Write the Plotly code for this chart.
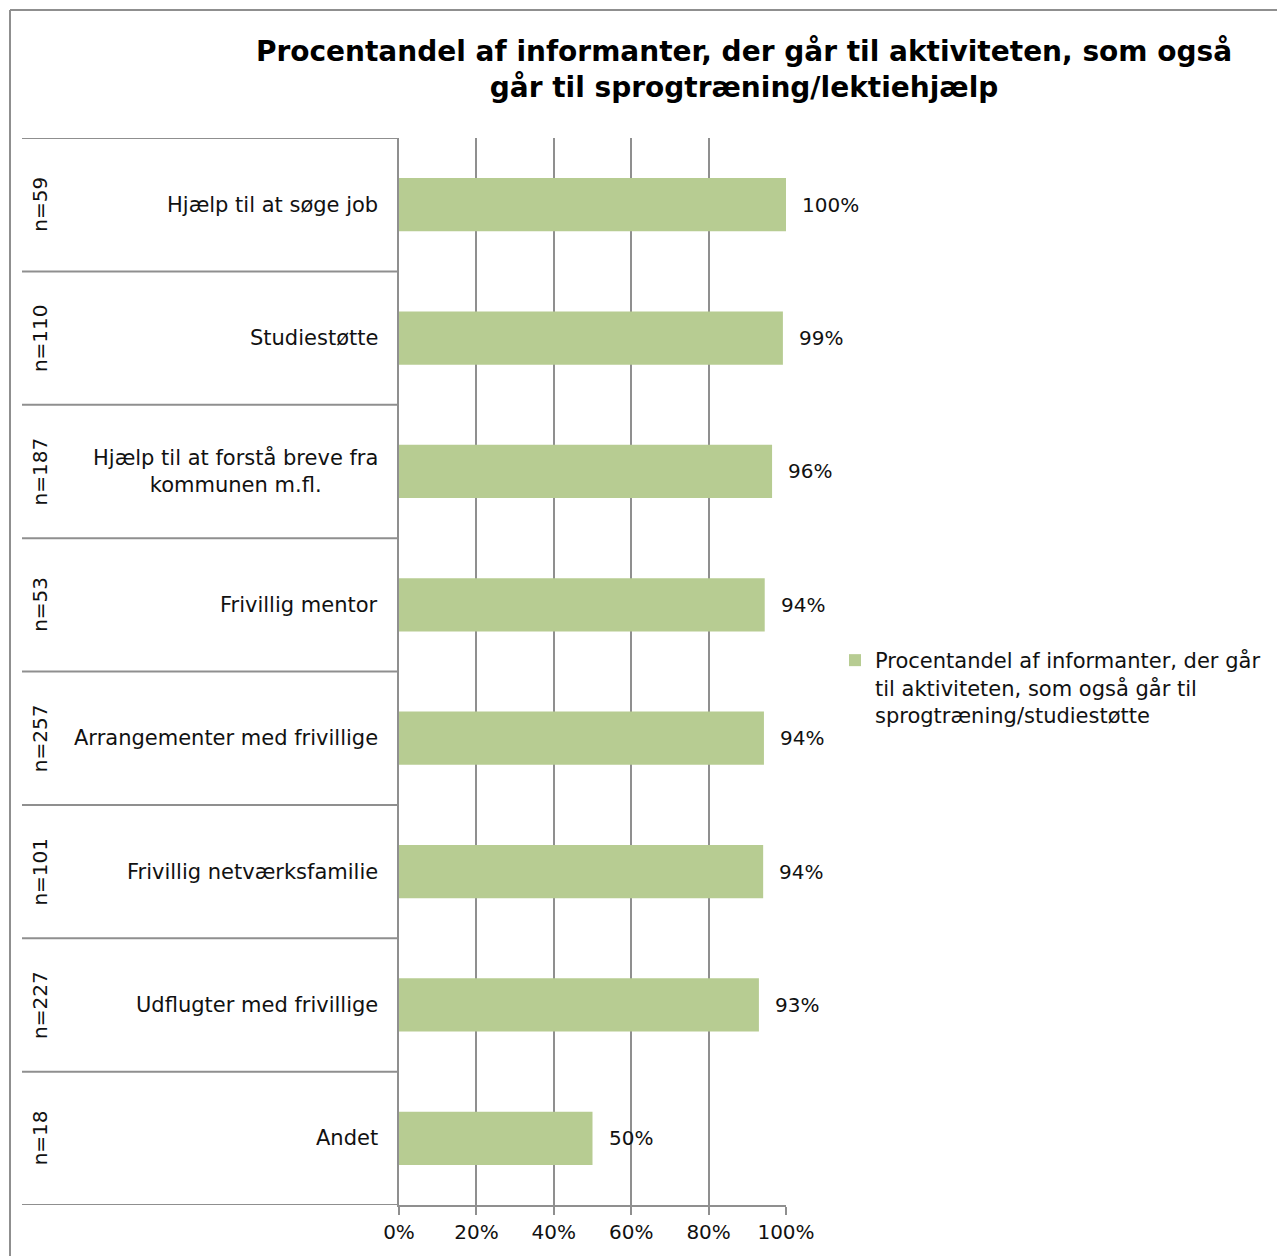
import plotly.graph_objects as go

categories = [
    "Hjælp til at søge job",
    "Studiestøtte",
    "Hjælp til at forstå breve fra<br>kommunen m.fl.",
    "Frivillig mentor",
    "Arrangementer med frivillige",
    "Frivillig netværksfamilie",
    "Udflugter med frivillige",
    "Andet",
]
n_labels = ["n=59", "n=110", "n=187", "n=53", "n=257", "n=101", "n=227", "n=18"]
values = [100.0, 99.2, 96.4, 94.5, 94.3, 94.1, 93.0, 50.0]
value_labels = ["100%", "99%", "96%", "94%", "94%", "94%", "93%", "50%"]
x_ticks = [0, 20, 40, 60, 80, 100]
x_tick_labels = ["0%", "20%", "40%", "60%", "80%", "100%"]
series_name = "Procentandel af informanter, der går<br>til aktiviteten, som også går til<br>sprogtræning/studiestøtte"
title_text = "Procentandel af informanter, der går til aktiviteten, som også<br>går til sprogtræning/lektiehjælp"

OFF = 8  # page body margin
W, H = 1285 - OFF, 1256 - OFF
L, R, T, B = 399 - OFF, 786 - OFF, 138 - OFF, 1205 - OFF
pw, ph = R - L, B - T
FONT = "DejaVu Sans"
GRID = "#8f8f8f"

def px_x(p):
    return (p - OFF - L) / pw

def px_y(p):
    return (B - (p - OFF)) / ph

idx = list(range(len(categories)))

fig = go.Figure()
fig.add_trace(go.Bar(
    x=values, y=idx, orientation="h", width=0.4,
    marker=dict(color="#b7cc92", line=dict(width=0)),
    name=series_name, showlegend=True,
))

annotations = []
for i, (v, t) in enumerate(zip(values, value_labels)):
    annotations.append(dict(x=v, y=i, xref="x", yref="y", text=t, showarrow=False,
                            xanchor="left", xshift=14, font=dict(size=20, color="#111", family=FONT)))
for i, c in enumerate(categories):
    annotations.append(dict(x=px_x(380), y=i, xref="paper", yref="y", text=c, showarrow=False,
                            xanchor="right", align="center", font=dict(size=21, color="#111", family=FONT)))
for i, n in enumerate(n_labels):
    annotations.append(dict(x=px_x(40), y=i, xref="paper", yref="y", text=n, showarrow=False,
                            textangle=-90, xanchor="center", font=dict(size=20, color="#111", family=FONT)))

shapes = []
for k in range(len(categories) + 1):
    yb = k - 0.5
    shapes.append(dict(type="line", xref="paper", yref="y", x0=px_x(22), x1=0, y0=yb, y1=yb,
                       line=dict(color=GRID, width=2)))
# outer chart border (left and top)
shapes.append(dict(type="line", xref="paper", yref="paper", x0=px_x(10), x1=px_x(10),
                   y0=px_y(10), y1=px_y(1300), line=dict(color=GRID, width=2)))
shapes.append(dict(type="line", xref="paper", yref="paper", x0=px_x(10), x1=px_x(1300),
                   y0=px_y(10), y1=px_y(10), line=dict(color=GRID, width=2)))

fig.update_layout(
    width=W, height=H,
    margin=dict(l=L, r=W - R, t=T, b=H - B, pad=0),
    paper_bgcolor="white", plot_bgcolor="white",
    font=dict(family=FONT, size=20, color="#111"),
    title=dict(text="<b>" + title_text + "</b>", xref="container", x=(744 - OFF) / W, xanchor="center",
               yref="container", y=1 - (61 - OFF) / H, yanchor="middle",
               font=dict(size=28, family=FONT, color="#000")),
    xaxis=dict(range=[0, 100], tickvals=x_ticks, ticktext=x_tick_labels,
               showgrid=True, gridcolor=GRID, gridwidth=2, zeroline=False,
               showline=True, linecolor=GRID, linewidth=2,
               ticks="outside", ticklen=8, tickcolor=GRID, tickwidth=2,
               tickfont=dict(size=20, family=FONT, color="#111"), fixedrange=True),
    yaxis=dict(range=[len(categories) - 0.5, -0.5], showticklabels=False, showgrid=False,
               zeroline=False, showline=True, linecolor=GRID, linewidth=2, ticks=""),
    legend=dict(x=px_x(835), y=px_y(640), xanchor="left", yanchor="top", valign="top",
                font=dict(size=21, family=FONT, color="#111"), itemwidth=30,
                bgcolor="rgba(0,0,0,0)"),
    annotations=annotations, shapes=shapes, bargap=0.6,
)
fig.write_html("out.html")
